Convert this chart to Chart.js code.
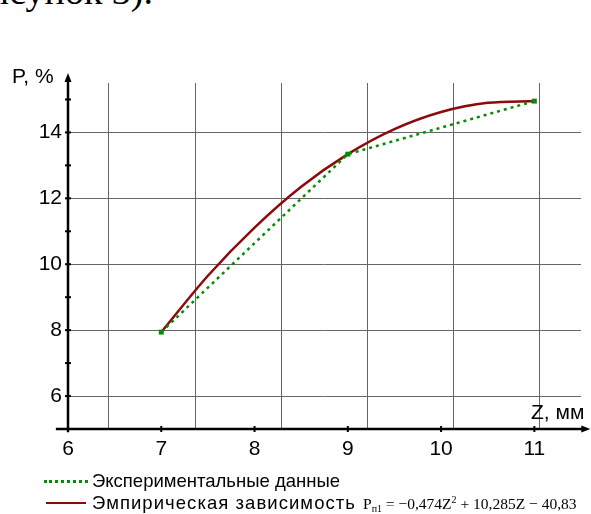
<!DOCTYPE html>
<html><head><meta charset="utf-8">
<script src="https://cdn.jsdelivr.net/npm/chart.js@4.4.0/dist/chart.umd.min.js"></script>
<style>
html,body{margin:0;padding:0;background:#fff;width:591px;height:514px;overflow:hidden;}
body{position:relative;font-family:"Liberation Sans",Arial,sans-serif;color:#000;}
#c{position:absolute;left:0;top:0;}
#top{position:absolute;right:438px;top:-28px;font:38px/38px "Liberation Serif","Times New Roman",serif;white-space:nowrap;}
.leg{position:absolute;left:44px;white-space:nowrap;font-size:18.5px;line-height:20px;height:20px;}
.sw{display:inline-block;vertical-align:middle;margin-right:4px;position:relative;top:-1px;}
.t2{letter-spacing:1.05px;}
.f{font-family:"Liberation Serif","Times New Roman",serif;font-size:15.5px;margin-left:7px;letter-spacing:0;}
.f sub{font-size:10px;vertical-align:-3px;line-height:0;}
.f sup{font-size:10px;vertical-align:6px;line-height:0;}
</style></head>
<body>
<div id="top">рисунок 3).</div>
<canvas id="c" width="591" height="514"></canvas>
<div class="leg" id="l1" style="top:471px"></div>
<div class="leg" id="l2" style="top:493px"></div>
<script>
// ---- data ----
const expZ = [7, 9, 11];
const expP = [7.94, 13.34, 14.95];
const empZ = [7, 7.5, 8, 8.5, 9, 9.5, 10, 10.5, 11];
const empP = [7.94, 9.65, 11.11, 12.35, 13.34, 14.10, 14.62, 14.90, 14.95];
const xTicks = [6, 7, 8, 9, 10, 11];
const yTicks = [6, 8, 10, 12, 14];
const yMinor = [6, 7, 8, 9, 10, 11, 12, 13, 14, 15];
const xMinor = [7, 8, 9, 10, 11];
const gridX = [6.43, 7.36, 8.28, 9.205, 10.13, 11.055];
const seriesNames = ['Экспериментальные данные', 'Эмпирическая зависимость'];
const yTitle = 'P, %';
const xTitle = 'Z, мм';

const GREEN = '#0a8a0a', RED = '#8c0a0a', GRID = '#666666';

const axesPlugin = {
  id: 'axesPlugin',
  beforeDatasetsDraw(chart) {
    const {ctx, chartArea: a, scales: {x}} = chart;
    ctx.save();
    ctx.strokeStyle = GRID; ctx.lineWidth = 1;
    gridX.forEach(v => {
      const px = Math.round(x.getPixelForValue(v)) + 0.5;
      ctx.beginPath(); ctx.moveTo(px, a.top); ctx.lineTo(px, a.bottom); ctx.stroke();
    });
    ctx.restore();
  },
  afterDraw(chart) {
    const {ctx, scales: {x, y}} = chart;
    const x0 = x.getPixelForValue(6), y0 = y.getPixelForValue(5);
    ctx.save();
    ctx.strokeStyle = '#000'; ctx.fillStyle = '#000'; ctx.lineWidth = 2.5;
    // x axis
    const xEnd = x.getPixelForValue(11.6);
    ctx.beginPath(); ctx.moveTo(x.getPixelForValue(5.87), y0); ctx.lineTo(xEnd - 6, y0); ctx.stroke();
    ctx.beginPath(); ctx.moveTo(xEnd, y0); ctx.lineTo(xEnd - 9, y0 - 3.5); ctx.lineTo(xEnd - 9, y0 + 3.5); ctx.closePath(); ctx.fill();
    // y axis
    const yEnd = y.getPixelForValue(15.8);
    ctx.beginPath(); ctx.moveTo(x0, y.getPixelForValue(4.9)); ctx.lineTo(x0, yEnd + 6); ctx.stroke();
    ctx.beginPath(); ctx.moveTo(x0, yEnd); ctx.lineTo(x0 - 3.5, yEnd + 9); ctx.lineTo(x0 + 3.5, yEnd + 9); ctx.closePath(); ctx.fill();
    // tick marks
    ctx.lineWidth = 2;
    yMinor.forEach(v => { const py = y.getPixelForValue(v); ctx.beginPath(); ctx.moveTo(x0 - 3, py); ctx.lineTo(x0 + 3, py); ctx.stroke(); });
    xMinor.forEach(v => { const px = x.getPixelForValue(v); ctx.beginPath(); ctx.moveTo(px, y0 - 3); ctx.lineTo(px, y0 + 3); ctx.stroke(); });
    // axis titles
    ctx.font = '21px "Liberation Sans", Arial, sans-serif';
    ctx.textBaseline = 'middle'; ctx.textAlign = 'left';
    ctx.fillText(yTitle, 12, 77);
    ctx.fillText(xTitle, 531, 413);
    ctx.restore();
  }
};

new Chart(document.getElementById('c'), {
  type: 'line',
  data: {
    datasets: [
      {
        label: seriesNames[0],
        data: expZ.map((z, i) => ({x: z, y: expP[i]})),
        borderColor: GREEN, backgroundColor: GREEN,
        borderWidth: 2.5, borderDash: [3, 4],
        pointStyle: 'rect', pointRadius: 3.5, pointBorderWidth: 0,
        pointBackgroundColor: GREEN, tension: 0, fill: false
      },
      {
        label: seriesNames[1],
        data: empZ.map((z, i) => ({x: z, y: empP[i]})),
        borderColor: RED, borderWidth: 2.5, pointRadius: 0,
        cubicInterpolationMode: 'monotone', fill: false
      }
    ]
  },
  options: {
    responsive: false, animation: false, devicePixelRatio: 1,
    layout: {padding: {top: 83, right: 10, left: 0, bottom: 0}},
    plugins: {legend: {display: false}, tooltip: {enabled: false}},
    scales: {
      x: {
        type: 'linear', min: 6, max: 11.5,
        afterBuildTicks: s => { s.ticks = xTicks.map(v => ({value: v})); },
        afterFit: s => { s.height = 85; },
        grid: {display: false}, border: {display: false},
        ticks: {font: {size: 21, family: '"Liberation Sans", Arial, sans-serif'}, color: '#000', padding: 0, maxRotation: 0, autoSkip: false}
      },
      y: {
        type: 'linear', min: 5, max: 15.5,
        afterBuildTicks: s => { s.ticks = yTicks.map(v => ({value: v})); },
        afterFit: s => { s.width = 68; },
        grid: {color: GRID, lineWidth: 1, drawTicks: false}, border: {display: false},
        ticks: {font: {size: 21, family: '"Liberation Sans", Arial, sans-serif'}, color: '#000', padding: 6, autoSkip: false}
      }
    }
  },
  plugins: [axesPlugin]
});

// legend (HTML text)
document.getElementById('l1').innerHTML =
  '<span class="sw" style="width:44px;border-top:3px dotted ' + GREEN + '"></span>' + seriesNames[0];
document.getElementById('l2').innerHTML =
  '<span class="sw" style="width:40px;margin-left:2px;margin-right:6px;border-top:2px solid ' + RED + '"></span><span class="t2">' + seriesNames[1] + '</span>' +
  '<span class="f">P<sub>п1</sub> = −0,474Z<sup>2</sup> + 10,285Z − 40,83</span>';
</script>
</body></html>
